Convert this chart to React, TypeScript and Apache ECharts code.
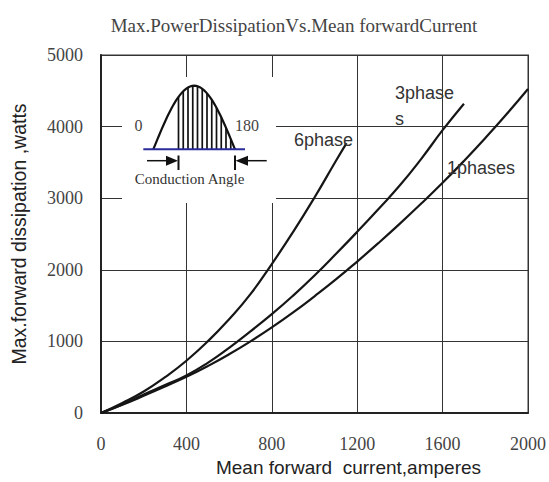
import React, { useEffect, useRef } from "react";
import * as echarts from "echarts";

// Six-phase curve
const current6 = [0, 100, 200, 300, 400, 500, 600, 700, 800, 900, 1000, 1100, 1150];
const power6 = [0, 140, 300, 500, 730, 1000, 1310, 1660, 2080, 2530, 3010, 3520, 3770];
// Three-phase curve
const current3 = [0, 100, 200, 300, 400, 500, 600, 700, 800, 900, 1000, 1100, 1200, 1300, 1400, 1500, 1600, 1700];
const power3 = [0, 120, 260, 390, 525, 700, 910, 1140, 1380, 1640, 1920, 2220, 2530, 2850, 3180, 3550, 3950, 4320];
// Single-phase curve
const current1 = [0, 100, 200, 300, 400, 500, 600, 700, 800, 900, 1000, 1100, 1200, 1300, 1400, 1500, 1600, 1700, 1800, 1900, 2000];
const power1 = [0, 115, 240, 370, 505, 655, 820, 1000, 1195, 1405, 1630, 1865, 2115, 2375, 2645, 2925, 3215, 3520, 3840, 4175, 4525];

const seriesNames = ["6phase", "3phase\ns", "1phases"];
const titleText = "Max.PowerDissipationVs.Mean forwardCurrent";
const xName = "Mean forward  current,amperes";
const yName = "Max.forward dissipation ,watts";

const pairs = (xs: number[], ys: number[]) => xs.map((x, i) => [x, ys[i]]);

function insetGraphics() {
  const x0 = 153.3, x1 = 235, base = 149.3, h = 63.6;
  const hump: number[][] = [];
  for (let i = 0; i <= 40; i++) {
    const x = x0 + ((x1 - x0) * i) / 40;
    hump.push([x, base - h * Math.sin((Math.PI * (x - x0)) / (x1 - x0))]);
  }
  const hatches: any[] = [];
  for (let i = 0; i < 12; i++) {
    const x = 178.5 + i * 4.75;
    const y = base - h * Math.sin((Math.PI * (x - x0)) / (x1 - x0));
    hatches.push({ type: "line", shape: { x1: x, y1: base, x2: x, y2: y }, style: { stroke: "#111", lineWidth: 1.7 } });
  }
  const ink = "#111";
  return [
    { type: "rect", shape: { x: 122, y: 77, width: 154, height: 126 }, style: { fill: "#fff" } },
    ...hatches,
    { type: "polyline", shape: { points: hump }, style: { stroke: ink, lineWidth: 2.2, fill: null } },
    { type: "line", shape: { x1: 143.3, y1: base, x2: 245, y2: base }, style: { stroke: "#2a2a9a", lineWidth: 2 } },
    // left arrow
    { type: "line", shape: { x1: 147, y1: 160.7, x2: 170, y2: 160.7 }, style: { stroke: ink, lineWidth: 1.5 } },
    { type: "polygon", shape: { points: [[178, 160.7], [166, 155.7], [166, 165.7]] }, style: { fill: ink } },
    { type: "line", shape: { x1: 178.5, y1: 155.5, x2: 178.5, y2: 170 }, style: { stroke: ink, lineWidth: 2 } },
    // right arrow
    { type: "line", shape: { x1: 266.7, y1: 160.7, x2: 243, y2: 160.7 }, style: { stroke: ink, lineWidth: 1.5 } },
    { type: "polygon", shape: { points: [[235.5, 160.7], [248, 155.7], [248, 165.7]] }, style: { fill: ink } },
    { type: "line", shape: { x1: 235, y1: 155.5, x2: 235, y2: 170 }, style: { stroke: ink, lineWidth: 2 } },
    { type: "text", x: 138.5, y: 125, style: { text: "0", font: "16px 'Liberation Serif'", fill: "#444", align: "center", verticalAlign: "middle" } },
    { type: "text", x: 247, y: 125, style: { text: "180", font: "16px 'Liberation Serif'", fill: "#444", align: "center", verticalAlign: "middle" } },
    { type: "text", x: 189.5, y: 178.5, style: { text: "Conduction Angle", font: "15px 'Liberation Serif'", fill: "#333", align: "center", verticalAlign: "middle" } },
  ];
}

export default function App() {
  const ref = useRef<HTMLDivElement>(null);
  useEffect(() => {
    document.body.style.margin = "0";
    const chart = echarts.init(ref.current!, undefined, { renderer: "svg" });
    const lineStyle = { color: "#161616", width: 2.2 };
    const labelFont = "18px 'Liberation Sans'";
    chart.setOption({
      animation: false,
      backgroundColor: "#fff",
      title: {
        text: titleText,
        left: 289,
        top: 11,
        textAlign: "center",
        textStyle: { fontFamily: "Liberation Serif", fontSize: 19, fontWeight: "normal", color: "#444" },
      },
      grid: { left: 101, right: 20, top: 55, bottom: 66, show: true, borderColor: "#9a9a9a", borderWidth: 2, backgroundColor: "transparent" },
      xAxis: {
        type: "value",
        min: 0,
        max: 2000,
        interval: 400,
        name: xName,
        nameLocation: "middle",
        nameGap: 45,
        nameTextStyle: { fontFamily: "Liberation Sans", fontSize: 19, color: "#222", padding: [0, 0, 0, 68] },
        axisLine: { show: true, lineStyle: { color: "#222", width: 2 } },
        axisTick: { show: false },
        axisLabel: { margin: 22, fontFamily: "Liberation Serif", fontSize: 18, color: "#444", formatter: (v: number) => String(v) },
        splitLine: { show: true, lineStyle: { color: "#333", width: 1 } },
      },
      yAxis: {
        type: "value",
        min: 0,
        max: 5000,
        interval: 1000,
        name: yName,
        nameLocation: "middle",
        nameGap: 72,
        nameTextStyle: { fontFamily: "Liberation Sans", fontSize: 19.5, color: "#222" },
        axisLine: { show: true, lineStyle: { color: "#222", width: 2 } },
        axisTick: { show: false },
        axisLabel: { margin: 18, fontFamily: "Liberation Serif", fontSize: 18, color: "#444", formatter: (v: number) => String(v) },
        splitLine: { show: true, lineStyle: { color: "#333", width: 1 } },
      },
      series: [
        { name: "6phase", type: "line", smooth: true, showSymbol: false, symbol: "none", lineStyle, data: pairs(current6, power6) },
        { name: "3phase", type: "line", smooth: true, showSymbol: false, symbol: "none", lineStyle, data: pairs(current3, power3) },
        { name: "1phases", type: "line", smooth: true, showSymbol: false, symbol: "none", lineStyle, data: pairs(current1, power1) },
      ],
      graphic: [
        ...insetGraphics().map((g) => ({ ...g, z: 100 })),
        { type: "text", z: 100, x: 294, y: 140, style: { text: seriesNames[0], font: labelFont, fill: "#333", verticalAlign: "middle" } },
        { type: "text", z: 100, x: 395, y: 106, style: { text: seriesNames[1], font: labelFont, fill: "#333", verticalAlign: "middle", lineHeight: 26 } },
        { type: "text", z: 100, x: 447, y: 168, style: { text: seriesNames[2], font: labelFont, fill: "#333", verticalAlign: "middle" } },
      ],
    });
    return () => chart.dispose();
  }, []);
  return <div ref={ref} style={{ width: 549, height: 482 }} />;
}
